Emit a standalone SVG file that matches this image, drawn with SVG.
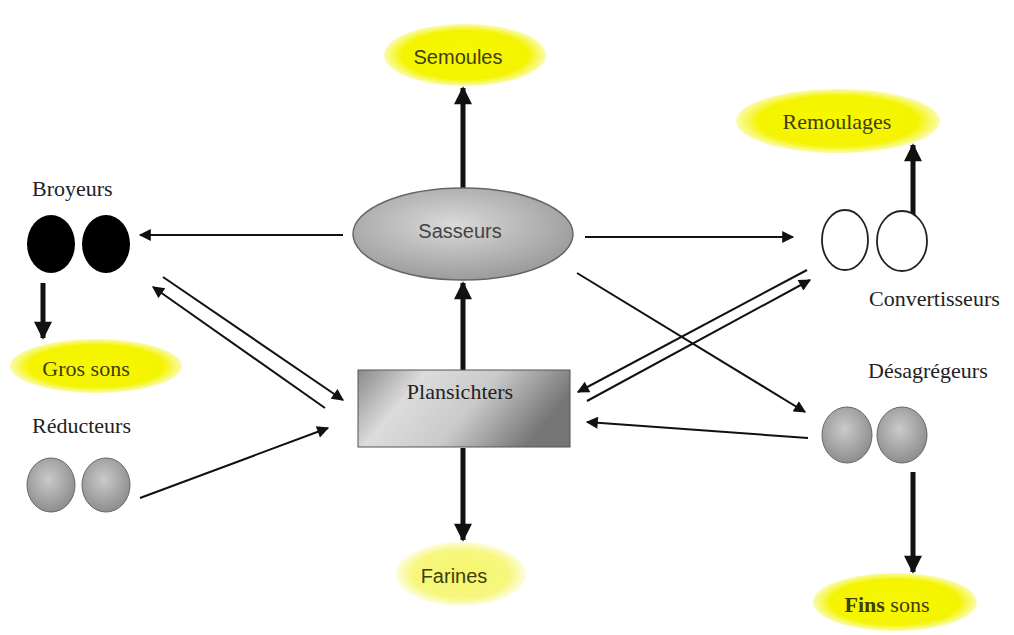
<svg xmlns="http://www.w3.org/2000/svg" width="1014" height="635" viewBox="0 0 1014 635">
<defs>
<radialGradient id="yel" cx="50%" cy="50%" r="50%">
<stop offset="0" stop-color="#f8f800"/>
<stop offset="0.78" stop-color="#f4f400"/>
<stop offset="1" stop-color="#fbfbb0"/>
</radialGradient>
<radialGradient id="yelPale" cx="50%" cy="50%" r="50%">
<stop offset="0" stop-color="#f6f66a"/>
<stop offset="0.75" stop-color="#f7f780"/>
<stop offset="1" stop-color="#fdfde0"/>
</radialGradient>
<radialGradient id="gray" cx="45%" cy="40%" r="60%">
<stop offset="0" stop-color="#dadada"/>
<stop offset="1" stop-color="#9c9c9c"/>
</radialGradient>
<radialGradient id="ball" cx="45%" cy="40%" r="60%">
<stop offset="0" stop-color="#cacaca"/>
<stop offset="1" stop-color="#8e8e8e"/>
</radialGradient>
<linearGradient id="rectg" x1="0" y1="0" x2="1" y2="0.3">
<stop offset="0" stop-color="#8a8a8a"/>
<stop offset="0.3" stop-color="#dcdcdc"/>
<stop offset="0.62" stop-color="#cacaca"/>
<stop offset="1" stop-color="#767676"/>
</linearGradient>
<marker id="ah" viewBox="0 0 10 10" refX="9" refY="5" markerWidth="14" markerHeight="12" markerUnits="userSpaceOnUse" orient="auto">
<path d="M0,0 L10,5 L0,10 Z" fill="#111"/>
</marker>
<marker id="ahBig" viewBox="0 0 10 10" refX="9" refY="5" markerWidth="19" markerHeight="18" markerUnits="userSpaceOnUse" orient="auto">
<path d="M0,0 L10,5 L0,10 Z" fill="#111"/>
</marker>
</defs>
<style>
.t{font-family:"Liberation Serif",serif;font-size:22px;fill:#222}
.s{font-family:"Liberation Sans",sans-serif;font-size:20px;fill:#444}
.sy{font-family:"Liberation Sans",sans-serif;font-size:20px;fill:#3e3e10}
.y{font-family:"Liberation Serif",serif;font-size:22px;fill:#3e3e10}
.thin{stroke:#111;stroke-width:2;fill:none;marker-end:url(#ah)}
.thick{stroke:#111;stroke-width:5;fill:none;marker-end:url(#ahBig)}
</style>
<rect width="1014" height="635" fill="#fff"/>

<g id="connectors">
<line class="thick" x1="463" y1="190" x2="463" y2="88"/>
<line class="thick" x1="463" y1="370" x2="463" y2="283"/>
<line class="thick" x1="463" y1="448" x2="463" y2="540"/>
<line class="thin" x1="343" y1="235" x2="140" y2="235"/>
<line class="thick" x1="43" y1="283" x2="43" y2="338"/>
<line class="thin" x1="163" y1="277" x2="343" y2="400"/>
<line class="thin" x1="325" y1="408" x2="153" y2="287"/>
<line class="thin" x1="140" y1="498" x2="328" y2="428"/>
<line class="thin" x1="585" y1="237" x2="793" y2="237"/>
<line class="thick" x1="913" y1="215" x2="913" y2="145"/>
<line class="thin" x1="577" y1="273" x2="805" y2="412"/>
<line class="thin" x1="807" y1="270" x2="578" y2="392"/>
<line class="thin" x1="587" y1="401" x2="810" y2="280"/>
<line class="thin" x1="808" y1="438" x2="587" y2="422"/>
<line class="thick" x1="913" y1="472" x2="913" y2="572"/>
</g>

<g id="semoules">
<ellipse cx="465" cy="55" rx="81" ry="31" fill="url(#yel)"/>
<text class="sy" x="458" y="64" text-anchor="middle">Semoules</text>
</g>

<g id="sasseurs">
<ellipse cx="463" cy="234" rx="110" ry="46" fill="url(#gray)" stroke="#666" stroke-width="1.5"/>
<text class="s" x="460" y="238" text-anchor="middle">Sasseurs</text>
</g>

<g id="plansichters">
<rect x="358" y="370" width="212" height="77" fill="url(#rectg)" stroke="#555" stroke-width="1"/>
<text class="t" x="460" y="399" text-anchor="middle">Plansichters</text>
</g>

<g id="farines">
<ellipse cx="461" cy="574" rx="65" ry="32" fill="url(#yelPale)"/>
<text class="sy" x="454" y="583" text-anchor="middle">Farines</text>
</g>

<g id="broyeurs">
<text class="t" x="32" y="196">Broyeurs</text>
<ellipse cx="51" cy="244" rx="24" ry="29" fill="#000"/>
<ellipse cx="106" cy="244" rx="24" ry="29" fill="#000"/>
</g>

<g id="gros-sons">
<ellipse cx="96" cy="366" rx="86" ry="27" fill="url(#yel)"/>
<text class="y" x="86" y="376" text-anchor="middle">Gros sons</text>
</g>

<g id="reducteurs">
<text class="t" x="32" y="433">Réducteurs</text>
<ellipse cx="51" cy="485" rx="24" ry="27" fill="url(#ball)" stroke="#666" stroke-width="1"/>
<ellipse cx="106" cy="485" rx="24" ry="27" fill="url(#ball)" stroke="#666" stroke-width="1"/>
</g>

<g id="remoulages">
<ellipse cx="838" cy="121" rx="102" ry="32" fill="url(#yel)"/>
<text class="y" x="837" y="129" text-anchor="middle">Remoulages</text>
</g>

<g id="convertisseurs">
<ellipse cx="845" cy="240" rx="23" ry="30" fill="#fff" stroke="#222" stroke-width="1.8"/>
<ellipse cx="902" cy="241" rx="25" ry="30" fill="#fff" stroke="#222" stroke-width="1.8"/>
<text class="t" x="869" y="306">Convertisseurs</text>
</g>

<g id="desagregeurs">
<text class="t" x="868" y="378">Désagrégeurs</text>
<ellipse cx="847" cy="435" rx="25" ry="28" fill="url(#ball)" stroke="#666" stroke-width="1"/>
<ellipse cx="902" cy="435" rx="25" ry="28" fill="url(#ball)" stroke="#666" stroke-width="1"/>
</g>

<g id="fins-sons">
<ellipse cx="895" cy="602" rx="82" ry="29" fill="url(#yel)"/>
<text class="y" x="887" y="612" text-anchor="middle"><tspan font-weight="bold">Fins</tspan> sons</text>
</g>
</svg>
